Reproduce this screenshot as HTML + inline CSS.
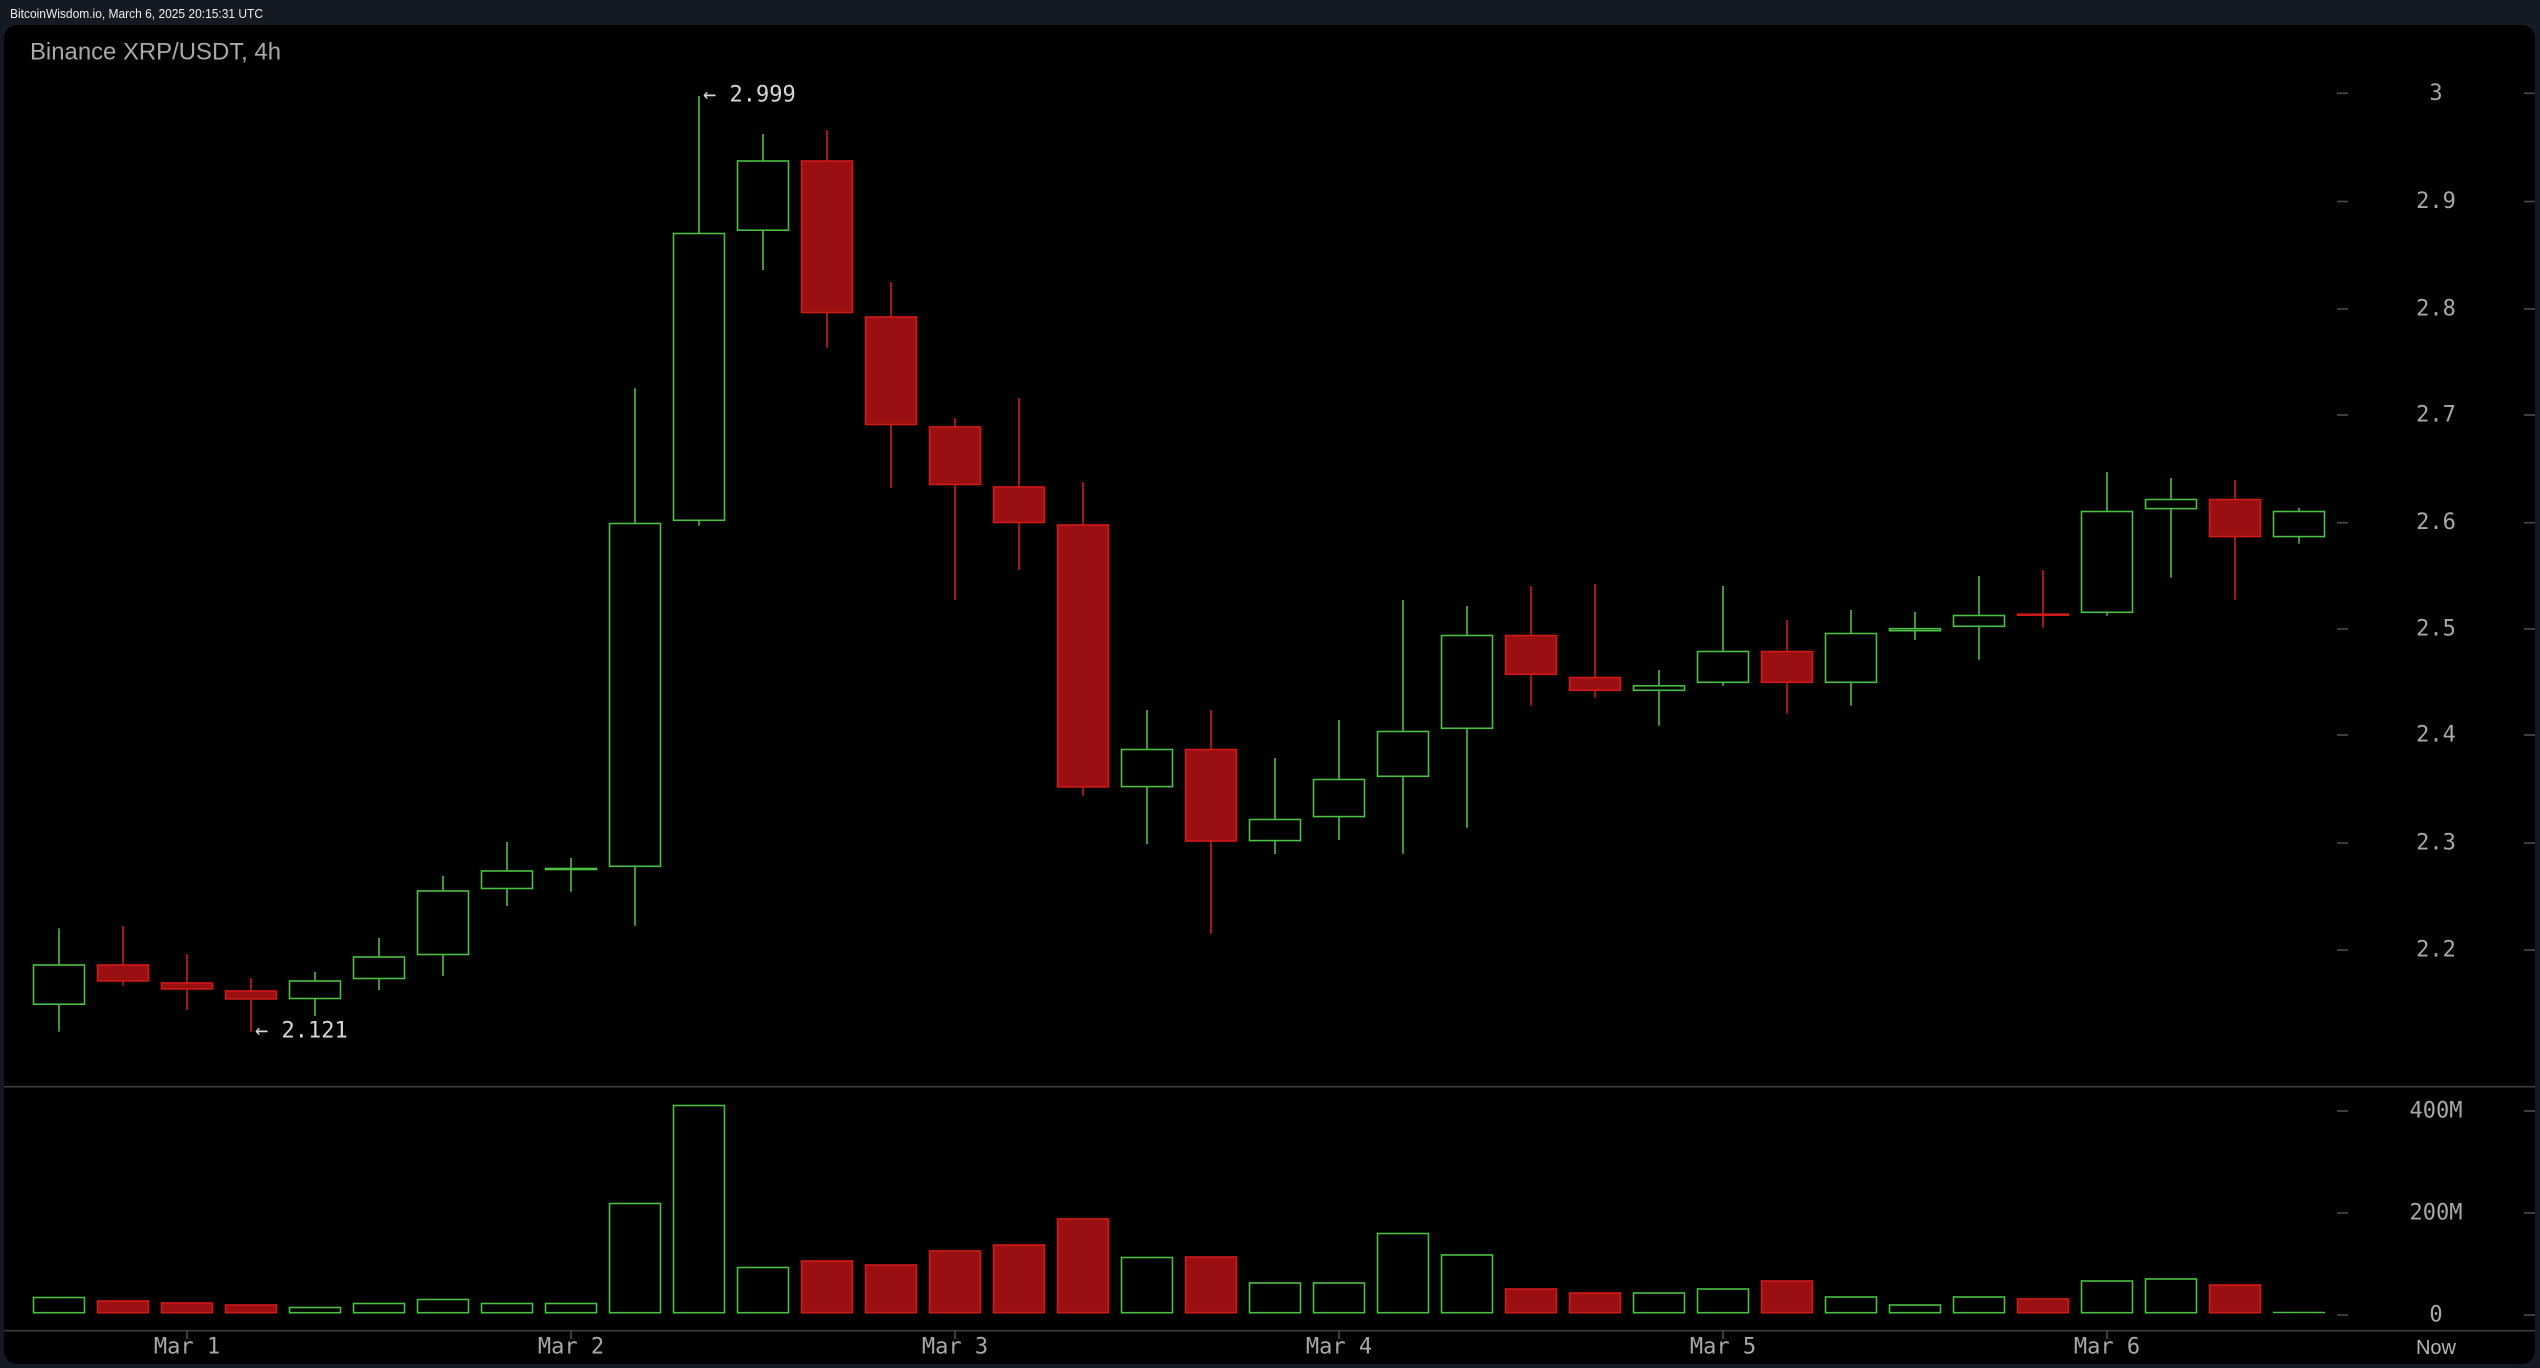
<!DOCTYPE html>
<html><head><meta charset="utf-8"><style>
html,body{margin:0;padding:0;background:#141a24;}
svg{display:block;}
</style></head><body>
<svg width="2540" height="1368" viewBox="0 0 2540 1368" xmlns="http://www.w3.org/2000/svg">
<rect x="0" y="0" width="2540" height="1368" fill="#141a24"/>
<text x="10" y="14" dominant-baseline="central" font-family="Liberation Sans, sans-serif" font-size="12.5" fill="#ececec" textLength="253" lengthAdjust="spacingAndGlyphs">BitcoinWisdom.io, March 6, 2025 20:15:31 UTC</text>
<rect x="4" y="25" width="2531" height="1339" rx="13" ry="13" fill="#000"/>
<text x="30" y="52" dominant-baseline="central" font-family="Liberation Sans, sans-serif" font-size="24" fill="#a9a9a9" textLength="251" lengthAdjust="spacingAndGlyphs">Binance XRP/USDT, 4h</text>

<!-- separators -->
<line x1="4" y1="1086.7" x2="2535" y2="1086.7" stroke="#3c3c3c" stroke-width="1.6"/>
<line x1="4" y1="1330.7" x2="2535" y2="1330.7" stroke="#3c3c3c" stroke-width="1.6"/>

<!-- y ticks -->
<g stroke="#4a4a4a" stroke-width="1.6">
<line x1="2337" y1="93.3" x2="2348" y2="93.3"/><line x1="2524" y1="93.3" x2="2535" y2="93.3"/>
<line x1="2337" y1="201.5" x2="2348" y2="201.5"/><line x1="2524" y1="201.5" x2="2535" y2="201.5"/>
<line x1="2337" y1="309" x2="2348" y2="309"/><line x1="2524" y1="309" x2="2535" y2="309"/>
<line x1="2337" y1="415" x2="2348" y2="415"/><line x1="2524" y1="415" x2="2535" y2="415"/>
<line x1="2337" y1="522.7" x2="2348" y2="522.7"/><line x1="2524" y1="522.7" x2="2535" y2="522.7"/>
<line x1="2337" y1="629" x2="2348" y2="629"/><line x1="2524" y1="629" x2="2535" y2="629"/>
<line x1="2337" y1="735" x2="2348" y2="735"/><line x1="2524" y1="735" x2="2535" y2="735"/>
<line x1="2337" y1="843" x2="2348" y2="843"/><line x1="2524" y1="843" x2="2535" y2="843"/>
<line x1="2337" y1="950" x2="2348" y2="950"/><line x1="2524" y1="950" x2="2535" y2="950"/>
<line x1="2337" y1="1111" x2="2348" y2="1111"/><line x1="2524" y1="1111" x2="2535" y2="1111"/>
<line x1="2337" y1="1213" x2="2348" y2="1213"/><line x1="2524" y1="1213" x2="2535" y2="1213"/>
<line x1="2337" y1="1315" x2="2348" y2="1315"/><line x1="2524" y1="1315" x2="2535" y2="1315"/>
<line x1="187" y1="1331" x2="187" y2="1339"/>
<line x1="571" y1="1331" x2="571" y2="1339"/>
<line x1="955" y1="1331" x2="955" y2="1339"/>
<line x1="1339" y1="1331" x2="1339" y2="1339"/>
<line x1="1723" y1="1331" x2="1723" y2="1339"/>
<line x1="2107" y1="1331" x2="2107" y2="1339"/>
</g>
<g font-family="DejaVu Sans Mono, Liberation Mono, monospace" font-size="22" fill="#a8a8a8" text-anchor="middle" dominant-baseline="central">
<text x="2436" y="93.3">3</text>
<text x="2436" y="201.5">2.9</text>
<text x="2436" y="309">2.8</text>
<text x="2436" y="415">2.7</text>
<text x="2436" y="522.7">2.6</text>
<text x="2436" y="629">2.5</text>
<text x="2436" y="735">2.4</text>
<text x="2436" y="843">2.3</text>
<text x="2436" y="950">2.2</text>
<text x="2436" y="1111">400M</text>
<text x="2436" y="1213">200M</text>
<text x="2436" y="1315">0</text>
<text x="187" y="1347">Mar 1</text>
<text x="571" y="1347">Mar 2</text>
<text x="955" y="1347">Mar 3</text>
<text x="1339" y="1347">Mar 4</text>
<text x="1723" y="1347">Mar 5</text>
<text x="2107" y="1347">Mar 6</text>
</g>
<text x="2436" y="1348" font-family="Liberation Sans, sans-serif" font-size="20" fill="#b4b4b4" text-anchor="middle" dominant-baseline="central">Now</text>

<!-- annotations -->
<g font-family="DejaVu Sans Mono, Liberation Mono, monospace" font-size="22" fill="#d6d6d6" dominant-baseline="central">
<text x="703" y="95">← 2.999</text>
<text x="255" y="1031">← 2.121</text>
</g>

<!-- green candles -->
<g stroke="#4cbf45" stroke-width="1.6" fill="#000">
<line x1="59" y1="928.3" x2="59" y2="1031.7"/><rect x="33.5" y="965" width="51" height="39.2"/>
<line x1="315" y1="972" x2="315" y2="1016"/><rect x="289.5" y="981" width="51" height="17.5"/>
<line x1="379" y1="938" x2="379" y2="990"/><rect x="353.5" y="957" width="51" height="21.5"/>
<line x1="443" y1="876" x2="443" y2="976"/><rect x="417.5" y="891" width="51" height="63.5"/>
<line x1="507" y1="842" x2="507" y2="906"/><rect x="481.5" y="871" width="51" height="17.5"/>
<line x1="571" y1="858" x2="571" y2="891.7"/><rect x="545.5" y="868.5" width="51" height="1"/>
<line x1="635" y1="388.3" x2="635" y2="925.7"/><rect x="609.5" y="523.5" width="51" height="342.8"/>
<line x1="699" y1="96" x2="699" y2="525.7"/><rect x="673.5" y="233.5" width="51" height="286.8"/>
<line x1="763" y1="134" x2="763" y2="270"/><rect x="737.5" y="161" width="51" height="69.2"/>
<line x1="1147" y1="710" x2="1147" y2="844"/><rect x="1121.5" y="749.5" width="51" height="37.1"/>
<line x1="1275" y1="758" x2="1275" y2="854"/><rect x="1249.5" y="819.5" width="51" height="21.1"/>
<line x1="1339" y1="720" x2="1339" y2="840"/><rect x="1313.5" y="779.5" width="51" height="37.1"/>
<line x1="1403" y1="600" x2="1403" y2="853.7"/><rect x="1377.5" y="731.5" width="51" height="44.8"/>
<line x1="1467" y1="606" x2="1467" y2="827.7"/><rect x="1441.5" y="635.5" width="51" height="92.8"/>
<line x1="1659" y1="670" x2="1659" y2="725.7"/><rect x="1633.5" y="685.8" width="51" height="4.5"/>
<line x1="1723" y1="586" x2="1723" y2="685.7"/><rect x="1697.5" y="651.5" width="51" height="30.8"/>
<line x1="1851" y1="610" x2="1851" y2="705.7"/><rect x="1825.5" y="633.5" width="51" height="48.8"/>
<line x1="1915" y1="612" x2="1915" y2="640"/><rect x="1889.5" y="628.7" width="51" height="2"/>
<line x1="1979" y1="576" x2="1979" y2="659.7"/><rect x="1953.5" y="615.5" width="51" height="10.8"/>
<line x1="2107" y1="472" x2="2107" y2="615.7"/><rect x="2081.5" y="511.5" width="51" height="100.8"/>
<line x1="2171" y1="478" x2="2171" y2="577.7"/><rect x="2145.5" y="499.5" width="51" height="9.1"/>
<line x1="2299" y1="508" x2="2299" y2="543.7"/><rect x="2273.5" y="511.5" width="51" height="25.1"/>
</g>

<!-- red candles -->
<g stroke="#d01a1a" stroke-width="1.6" fill="#9a0f12">
<line x1="123" y1="926" x2="123" y2="985.7"/><rect x="97.5" y="965" width="51" height="15.9"/>
<line x1="187" y1="954" x2="187" y2="1010"/><rect x="161.5" y="983" width="51" height="5.9"/>
<line x1="251" y1="978" x2="251" y2="1031.7"/><rect x="225.5" y="991" width="51" height="7.9"/>
<line x1="827" y1="130" x2="827" y2="347.7"/><rect x="801.5" y="161" width="51" height="151.5"/>
<line x1="891" y1="282" x2="891" y2="487.7"/><rect x="865.5" y="317" width="51" height="107.5"/>
<line x1="955" y1="418" x2="955" y2="600"/><rect x="929.5" y="427" width="51" height="57.5"/>
<line x1="1019" y1="398" x2="1019" y2="570"/><rect x="993.5" y="487" width="51" height="35.5"/>
<line x1="1083" y1="482" x2="1083" y2="795.7"/><rect x="1057.5" y="525" width="51" height="261.9"/>
<line x1="1211" y1="710" x2="1211" y2="933.7"/><rect x="1185.5" y="749.5" width="51" height="91.5"/>
<line x1="1531" y1="586" x2="1531" y2="705.7"/><rect x="1505.5" y="635.5" width="51" height="38.8"/>
<line x1="1595" y1="584" x2="1595" y2="697.7"/><rect x="1569.5" y="677.5" width="51" height="12.8"/>
<line x1="1787" y1="620" x2="1787" y2="713.7"/><rect x="1761.5" y="651.5" width="51" height="30.8"/>
<line x1="2043" y1="570" x2="2043" y2="627.7"/><rect x="2017.5" y="614.2" width="51" height="1"/>
<line x1="2235" y1="480" x2="2235" y2="599.7"/><rect x="2209.5" y="499.5" width="51" height="37.1"/>
</g>

<!-- volume green -->
<g stroke="#4cbf45" stroke-width="1.6" fill="#000">
<rect x="33.5" y="1297.5" width="51" height="15.2"/>
<rect x="289.5" y="1307.5" width="51" height="5.2"/>
<rect x="353.5" y="1303.5" width="51" height="9.2"/>
<rect x="417.5" y="1299.5" width="51" height="13.2"/>
<rect x="481.5" y="1303.5" width="51" height="9.2"/>
<rect x="545.5" y="1303.5" width="51" height="9.2"/>
<rect x="609.5" y="1203.5" width="51" height="109.2"/>
<rect x="673.5" y="1105.5" width="51" height="207.2"/>
<rect x="737.5" y="1267.5" width="51" height="45.2"/>
<rect x="1121.5" y="1257.5" width="51" height="55.2"/>
<rect x="1249.5" y="1283" width="51" height="29.7"/>
<rect x="1313.5" y="1283" width="51" height="29.7"/>
<rect x="1377.5" y="1233.5" width="51" height="79.2"/>
<rect x="1441.5" y="1255" width="51" height="57.7"/>
<rect x="1633.5" y="1293" width="51" height="19.7"/>
<rect x="1697.5" y="1289" width="51" height="23.7"/>
<rect x="1825.5" y="1297" width="51" height="15.7"/>
<rect x="1889.5" y="1305" width="51" height="7.7"/>
<rect x="1953.5" y="1297" width="51" height="15.7"/>
<rect x="2081.5" y="1281" width="51" height="31.7"/>
<rect x="2145.5" y="1279" width="51" height="33.7"/>
<line x1="2273" y1="1312.5" x2="2325" y2="1312.5"/>
</g>
<!-- volume red -->
<g stroke="#d01a1a" stroke-width="1.6" fill="#9a0f12">
<rect x="97.5" y="1301" width="51" height="11.7"/>
<rect x="161.5" y="1303" width="51" height="9.7"/>
<rect x="225.5" y="1305" width="51" height="7.7"/>
<rect x="801.5" y="1261" width="51" height="51.7"/>
<rect x="865.5" y="1265" width="51" height="47.7"/>
<rect x="929.5" y="1251" width="51" height="61.7"/>
<rect x="993.5" y="1245" width="51" height="67.7"/>
<rect x="1057.5" y="1219" width="51" height="93.7"/>
<rect x="1185.5" y="1257" width="51" height="55.7"/>
<rect x="1505.5" y="1289" width="51" height="23.7"/>
<rect x="1569.5" y="1293" width="51" height="19.7"/>
<rect x="1761.5" y="1281" width="51" height="31.7"/>
<rect x="2017.5" y="1299" width="51" height="13.7"/>
<rect x="2209.5" y="1285" width="51" height="27.7"/>
</g>
</svg>
</body></html>
